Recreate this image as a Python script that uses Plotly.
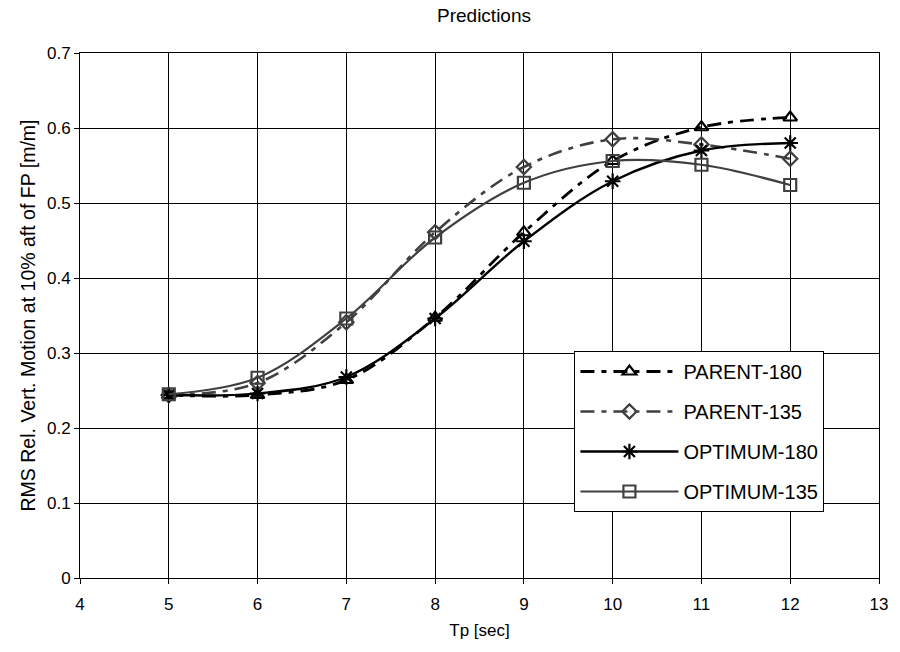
import plotly.graph_objects as go

tp = [5, 6, 7, 8, 9, 10, 11, 12]
parent_180 = [0.244, 0.244, 0.264, 0.347, 0.461, 0.556, 0.601, 0.614]
parent_135 = [0.244, 0.260, 0.341, 0.461, 0.548, 0.585, 0.578, 0.559]
optimum_180 = [0.244, 0.246, 0.268, 0.346, 0.449, 0.529, 0.570, 0.580]
optimum_135 = [0.245, 0.267, 0.346, 0.454, 0.527, 0.556, 0.551, 0.524]

FONT = "Arial, 'Liberation Sans', sans-serif"

series = [
    ("PARENT-180", parent_180, "#000000", "14px,7px,5px,7px", "triangle-up-open", 2.8, 12),
    ("PARENT-135", parent_135, "#404040", "14px,7px,5px,7px", "diamond-open", 2.6, 11),
    ("OPTIMUM-180", optimum_180, "#000000", "solid", "asterisk-open", 2.4, 13),
    ("OPTIMUM-135", optimum_135, "#404040", "solid", "square-open", 2.2, 12),
]

fig = go.Figure()
for i, (name, ys, col, dash, sym, lw, ms) in enumerate(series):
    fig.add_trace(go.Scatter(
        x=tp, y=ys, name=name, mode="lines+markers",
        line=dict(color=col, width=lw, dash=dash, shape="spline", smoothing=1.0),
        marker=dict(symbol=sym, size=ms, color=col, line=dict(color=col, width=2.2)),
        legendgroup=f"g{i}",
    ))

fig.update_layout(
    width=900, height=652,
    margin=dict(l=80, r=12, t=53, b=74),
    paper_bgcolor="white", plot_bgcolor="white",
    font=dict(family=FONT, size=17, color="#000000"),
    title=dict(text="Predictions", x=(80 + 888) / 2 / 900, xanchor="center",
               y=1 - 15 / 652, yanchor="middle", font=dict(size=19, family=FONT)),
    xaxis=dict(
        range=[4, 13], tickmode="linear", tick0=4, dtick=1,
        showgrid=True, gridcolor="#000000", gridwidth=1,
        showline=True, linecolor="#000000", linewidth=1, mirror=True,
        ticks="outside", ticklen=5, tickcolor="#000000",
        zeroline=False, ticklabelstandoff=6,
        title=dict(text="Tp [sec]", font=dict(size=17), standoff=10),
        tickfont=dict(size=17),
    ),
    yaxis=dict(
        range=[0, 0.7], tickmode="linear", tick0=0, dtick=0.1,
        showgrid=True, gridcolor="#000000", gridwidth=1,
        showline=True, linecolor="#000000", linewidth=1, mirror=True,
        ticks="outside", ticklen=5, tickcolor="#000000",
        zeroline=False,
        title=dict(text="RMS Rel. Vert. Motion at 10% aft of FP [m/m]", font=dict(size=19.5), standoff=6),
        tickfont=dict(size=17),
    ),
    showlegend=True,
    legend=dict(
        x=(580 - 80) / 808, y=(578 - 351) / 525, xanchor="left", yanchor="top",
        bgcolor="white", bordercolor="#000000", borderwidth=1,
        font=dict(size=20, family=FONT),
        itemwidth=98, tracegroupgap=11,
    ),
)

fig.write_html("out.html")
